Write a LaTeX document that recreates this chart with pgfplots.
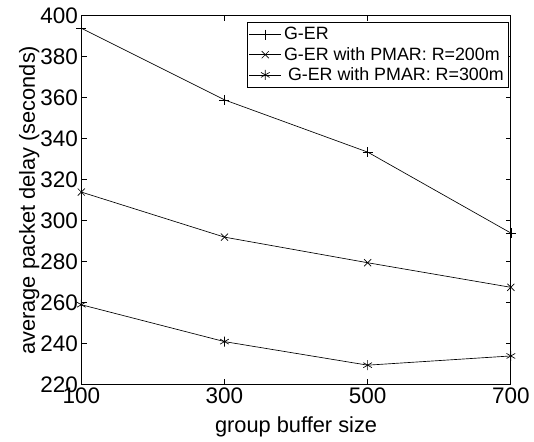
\documentclass[border=0pt]{standalone}
\usepackage{fontspec}
\setmainfont{Liberation Sans}
\usepackage{pgfplots}
\pgfplotsset{compat=1.18}

\begin{document}
\begin{tikzpicture}
\begin{axis}[
    scale only axis,
    width=325pt, height=279pt,
    xmin=100, xmax=700,
    ymin=220, ymax=400,
    xtick={100,300,500,700},
    ytick={220,240,...,400},
    tick align=inside,
    major tick length=4pt,
    axis line style={line width=0.8pt},
    every tick/.style={black, line width=0.6pt},
    /pgf/number format/assume math mode=true,
    tick label style={font=\fontsize{17}{19}\selectfont},
    xticklabel style={yshift=1pt},
    yticklabel style={xshift=1pt},
    label style={font=\fontsize{16.5}{19}\selectfont},
    xlabel={group buffer size},
    ylabel={average packet delay (seconds)},
    xlabel style={yshift=-3pt},
    ylabel style={yshift=-6pt},
    legend style={
        at={(rel axis cs:0.995,0.982)}, anchor=north east,
        font=\fontsize{13.5}{16}\selectfont,
        draw=black, line width=0.6pt,
        inner sep=1.5pt, row sep=0pt,
        cells={anchor=west},
    },
    legend image code/.code={
        \draw[mark repeat=2,mark phase=2,#1] plot coordinates {(0cm,0cm) (0.42cm,0cm) (0.84cm,0cm)};
    },
    every axis plot/.append style={black, line width=0.5pt, mark size=3.8pt},
]
\addplot[mark=+] coordinates {(100,394) (300,359) (500,333.5) (700,294)};
\addlegendentry{G-ER}
\addplot[mark=x] coordinates {(100,314) (300,292) (500,279.5) (700,267.5)};
\addlegendentry{G-ER with PMAR: R=200m}
\addplot[mark=asterisk] coordinates {(100,259) (300,241) (500,229.5) (700,234)};
\addlegendentry{\hspace{3pt}G-ER with PMAR: R=300m}
\end{axis}
\path (current axis.south west) ++(-61.5pt,-41.25pt);
\path (current axis.north east) ++(14.25pt,12pt);
\end{tikzpicture}
\end{document}
